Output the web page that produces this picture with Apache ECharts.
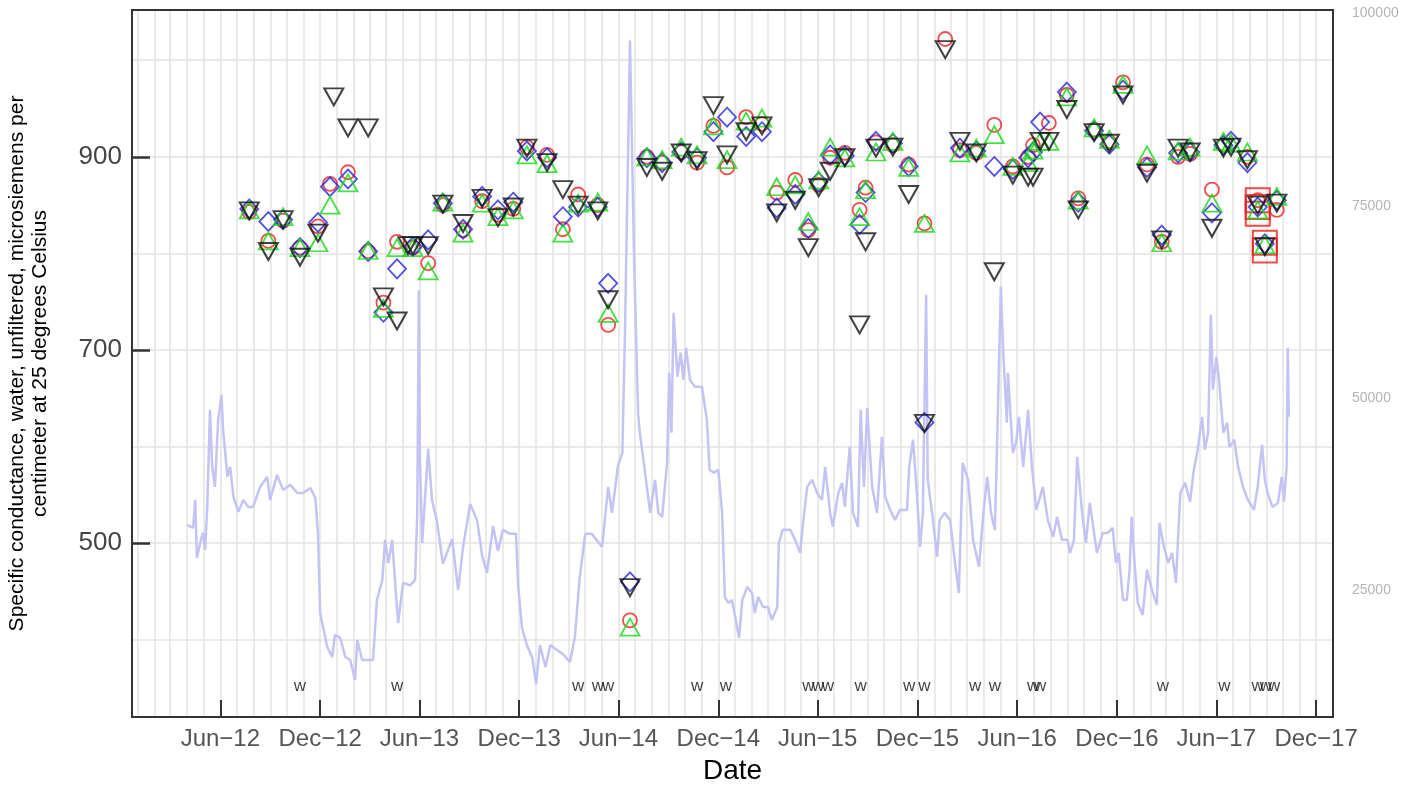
<!DOCTYPE html>
<html>
<head>
<meta charset="utf-8">
<script src="https://cdn.jsdelivr.net/npm/echarts@6/dist/echarts.min.js"></script>
<style>
  html, body { margin: 0; padding: 0; background: #fff; }
  #chart { width: 1417px; height: 789px; }
</style>
</head>
<body>
<div id="chart"></div>
<script>
// daily streamflow (right axis)
const flowDates = [
  '2012-04-01','2012-04-12','2012-04-16','2012-04-19','2012-04-25','2012-04-30','2012-05-04','2012-05-08','2012-05-13','2012-05-17',
  '2012-05-22','2012-05-28','2012-06-03','2012-06-06','2012-06-14','2012-06-19','2012-06-25','2012-07-04','2012-07-13','2012-07-22',
  '2012-07-31','2012-08-13','2012-08-26','2012-08-31','2012-09-13','2012-09-24','2012-10-07','2012-10-20','2012-10-31','2012-11-13',
  '2012-11-22','2012-11-27','2012-12-01','2012-12-14','2012-12-23','2012-12-28','2013-01-07','2013-01-16','2013-01-25','2013-02-03',
  '2013-02-07','2013-02-16','2013-02-27','2013-03-08','2013-03-15','2013-03-25','2013-03-30','2013-04-05','2013-04-12','2013-04-18',
  '2013-04-23','2013-05-02','2013-05-15','2013-05-24','2013-05-28','2013-05-31','2013-06-02','2013-06-06','2013-06-17','2013-06-24',
  '2013-07-03','2013-07-14','2013-07-31','2013-08-11','2013-08-20','2013-09-02','2013-09-15','2013-09-24','2013-10-03','2013-10-14',
  '2013-10-23','2013-11-01','2013-11-14','2013-11-25','2013-11-29','2013-12-06','2013-12-15','2013-12-25','2014-01-01','2014-01-08',
  '2014-01-18','2014-01-27','2014-02-08','2014-02-19','2014-03-04','2014-03-13','2014-03-22','2014-04-01','2014-04-13','2014-05-02',
  '2014-05-13','2014-05-20','2014-05-31','2014-06-08','2014-06-13','2014-06-22','2014-06-30','2014-07-07','2014-07-10','2014-07-16',
  '2014-07-29','2014-08-07','2014-08-13','2014-08-20','2014-08-29','2014-09-02','2014-09-06','2014-09-10','2014-09-17','2014-09-23',
  '2014-09-28','2014-10-03','2014-10-10','2014-10-19','2014-11-01','2014-11-10','2014-11-15','2014-11-23','2014-12-01','2014-12-08',
  '2014-12-13','2014-12-19','2014-12-26','2015-01-01','2015-01-08','2015-01-14','2015-01-23','2015-02-01','2015-02-06','2015-02-12',
  '2015-02-21','2015-03-02','2015-03-09','2015-03-19','2015-03-22','2015-03-29','2015-04-12','2015-04-21','2015-04-30','2015-05-06',
  '2015-05-13','2015-05-22','2015-05-31','2015-06-09','2015-06-15','2015-06-24','2015-06-29','2015-07-09','2015-07-16','2015-07-21',
  '2015-07-30','2015-08-05','2015-08-14','2015-08-19','2015-08-25','2015-08-31','2015-09-09','2015-09-18','2015-09-27','2015-10-03',
  '2015-10-12','2015-10-21','2015-10-30','2015-11-12','2015-11-16','2015-11-23','2015-11-30','2015-12-06','2015-12-11','2015-12-17',
  '2015-12-20','2015-12-28','2016-01-06','2016-01-11','2016-01-20','2016-01-30','2016-02-08','2016-02-15','2016-02-22','2016-03-03',
  '2016-03-12','2016-03-23','2016-03-31','2016-04-07','2016-04-14','2016-04-21','2016-04-25','2016-05-02','2016-05-06','2016-05-13',
  '2016-05-15','2016-05-24','2016-05-30','2016-06-04','2016-06-12','2016-06-21','2016-06-28','2016-07-06','2016-07-13','2016-07-18',
  '2016-07-27','2016-08-06','2016-08-13','2016-08-22','2016-09-01','2016-09-06','2016-09-13','2016-09-19','2016-09-28','2016-10-05',
  '2016-10-12','2016-10-20','2016-10-25','2016-11-05','2016-11-14','2016-11-23','2016-11-29','2016-12-04','2016-12-12','2016-12-19',
  '2016-12-24','2016-12-28','2017-01-03','2017-01-08','2017-01-17','2017-01-25','2017-02-03','2017-02-12','2017-02-17','2017-02-25',
  '2017-03-05','2017-03-12','2017-03-19','2017-03-27','2017-04-05','2017-04-14','2017-04-20','2017-04-27','2017-05-06','2017-05-11',
  '2017-05-17','2017-05-22','2017-05-26','2017-06-01','2017-06-06','2017-06-14','2017-06-21','2017-06-25','2017-07-04','2017-07-11',
  '2017-07-20','2017-07-29','2017-08-09','2017-08-16','2017-08-24','2017-08-29','2017-09-03','2017-09-12','2017-09-22','2017-09-29',
  '2017-10-03','2017-10-08','2017-10-10','2017-10-12'
];
const flowValues = [
  33470,33080,36720,29170,31120,32420,30210,35810,48440,41020,
  38420,47140,50390,45840,39720,41020,37110,35160,36720,35810,
  35810,38420,39720,36720,39980,38020,38680,37630,37630,38280,
  36980,32420,22010,17580,16280,19150,18760,16280,15890,13290,
  18500,15890,15890,15890,23700,26310,31520,28520,31520,25400,
  20710,25920,25600,26310,35030,64000,42000,31120,43360,36720,
  33990,28390,31640,25000,30600,36200,33990,29430,27220,33340,
  30080,32820,32300,32300,25530,20060,17840,16150,12770,17840,
  14980,17840,17190,16670,15630,18890,26700,32300,32300,30600,
  38420,35030,41150,42840,58990,96480,66800,47790,45450,42320,
  35030,39330,35030,34510,41540,53260,45450,61070,52740,55880,
  52350,56510,52350,51440,51440,47140,40630,40240,40630,35030,
  24100,23310,23700,21490,18760,23700,25400,24610,22010,24100,
  22790,22790,21100,22790,31120,32820,32820,31520,29820,34120,
  38420,39330,37630,36720,41020,35030,33210,37630,38940,35810,
  43620,35030,33210,48440,38420,48700,38420,35030,44930,37110,
  35420,34120,35420,35420,41020,44540,37630,30600,35030,63410,
  39330,35030,29300,34120,35030,34120,28520,24610,41540,39330,
  31520,28000,35030,39720,35030,32820,43620,64450,56640,46750,
  53260,42840,44140,47530,41020,48440,41020,35420,37110,38420,
  34120,31910,34510,31520,31520,29820,31520,42320,35030,31120,
  36330,32420,29820,32420,32420,33080,28520,29820,23700,23700,
  27610,34510,27610,23310,21750,27610,25000,23050,33730,30600,
  28520,29820,25920,37630,38940,36460,40240,42840,47530,43230,
  45450,60810,51050,55340,52350,45450,46750,43620,44540,41020,
  38420,36720,35420,38420,43880,39330,37630,35810,36330,39720,
  36460,41020,56510,47530
];

// sample dates and specific conductance by method (left axis)
const sampleDates = [
  '2012-07-24','2012-08-28','2012-09-24','2012-10-25','2012-11-27','2012-12-19','2012-12-26','2013-01-21','2013-02-27','2013-03-27',
  '2013-04-21','2013-05-11','2013-05-20','2013-06-17','2013-07-14','2013-08-20','2013-09-24','2013-10-23','2013-11-20','2013-12-15',
  '2014-01-21','2014-02-19','2014-03-19','2014-04-24','2014-05-13','2014-06-22','2014-07-23','2014-08-20','2014-09-24','2014-10-23',
  '2014-11-22','2014-12-17','2015-01-21','2015-02-19','2015-03-18','2015-04-21','2015-05-15','2015-06-03','2015-06-24','2015-07-21',
  '2015-08-17','2015-08-28','2015-09-16','2015-10-17','2015-11-15','2015-12-14','2016-01-21','2016-02-17','2016-03-18','2016-04-20',
  '2016-05-24','2016-06-21','2016-06-30','2016-07-13','2016-07-29','2016-08-31','2016-09-21','2016-10-20','2016-11-17','2016-12-12',
  '2017-01-25','2017-02-21','2017-03-23','2017-04-14','2017-05-24','2017-06-14','2017-06-28','2017-07-28','2017-08-16','2017-08-29',
  '2017-09-20'
];
const circleValues = [
  843,813,834,806,828,872,null,884,802,749,
  812,null,806,790,850,824,854,840,846,910,
  902,825,861,850,726,420,900,894,905,894,
  932,889,941,934,863,876,824,871,899,904,
  845,868,915,912,892,831,1022,907,904,933,
  890,900,912,null,935,964,857,928,915,977,
  892,812,900,903,866,912,null,900,855,null,
  845
];
const diamondValues = [
  846,833,835,806,832,869,null,877,802,739,
  784,null,807,814,852,825,859,845,853,906,
  899,838,848,848,769,460,899,894,905,899,
  926,941,921,926,847,861,826,874,902,901,
  830,863,916,914,890,625,null,909,906,890,
  887,899,905,936,null,967,853,927,913,969,
  889,819,904,905,842,912,916,894,848,810,
  855
];
const triangleValues = [
  845,813,838,806,811,850,null,873,803,743,
  806,null,806,782,853,821,852,838,845,902,
  893,821,852,853,738,413,900,897,910,902,
  932,897,937,940,869,871,833,876,910,899,
  838,866,905,916,889,831,null,904,909,923,
  890,894,907,916,916,962,855,930,918,975,
  902,811,906,910,852,916,914,905,845,809,
  859
];
const invTriValues = [
  844,802,835,796,821,null,962,930,930,755,
  730,808,808,808,851,831,857,837,848,909,
  894,866,850,844,752,454,889,885,904,896,
  953,902,926,932,842,855,806,868,885,899,
  726,812,909,910,861,624,1011,916,904,781,
  881,879,879,916,916,949,845,925,914,964,
  883,814,909,905,826,909,910,897,850,807,
  852
];
const squareDates = ['2017-08-16','2017-08-16','2017-08-16','2017-08-29','2017-08-29'];
const squareValues = [855, 848, 841, 811, 803];

// "w" remark markers along the bottom
const wDates = [
  '2012-10-25','2013-04-21','2014-03-19','2014-04-24','2014-05-13','2014-10-23','2014-12-15','2015-05-15',
  '2015-06-02','2015-06-20','2015-08-19','2015-11-16','2015-12-14','2016-03-16','2016-04-21','2016-06-30',
  '2016-07-13','2017-02-23','2017-06-16','2017-08-16','2017-08-31','2017-09-15'
];
const wLevel = 352;

const tickDates = ['2012-06-01','2012-12-01','2013-06-01','2013-12-01','2014-06-01','2014-12-01',
  '2015-06-01','2015-12-01','2016-06-01','2016-12-01','2017-06-01','2017-12-01'];
const leftTicks = [500, 700, 900];
const leftGrid = [400, 500, 600, 700, 800, 900, 1000];
const rightTicks = [25000, 50000, 75000, 100000];

const MONTHS = ['Jan','Feb','Mar','Apr','May','Jun','Jul','Aug','Sep','Oct','Nov','Dec'];

// dates -> UTC milliseconds, the x axis is a plain value axis
const ts = s => { const p = s.split('-').map(Number); return Date.UTC(p[0], p[1] - 1, p[2]); };

const monthTicks = [];
for (let y = 2012; y <= 2018; y++) {
  for (let m = 0; m < 12; m++) {
    if (y === 2018 && m > 0) break;
    monthTicks.push(Date.UTC(y, m, 1));
  }
}

const FONT = 'Liberation Sans, Arial, sans-serif';
const X_MIN = ts('2011-12-22');
const X_MAX = ts('2018-01-01');

const pairs = (dates, vals) => dates.map((d, i) => [ts(d), vals[i]]).filter(p => p[1] != null);

const chart = echarts.init(document.getElementById('chart'), null, { renderer: 'canvas' });

const markerSeries = (name, vals, symbol, size, color, width, extra) => Object.assign({
  name: name,
  type: 'scatter',
  xAxisIndex: 0,
  yAxisIndex: 0,
  data: pairs(sampleDates, vals),
  symbol: symbol,
  symbolSize: size,
  itemStyle: { color: 'rgba(0,0,0,0)', borderColor: color, borderWidth: width },
  z: 4
}, extra || {});

const option = {
  animation: false,
  backgroundColor: '#fff',
  textStyle: { fontFamily: FONT },
  grid: {
    left: 132, right: 84, top: 10, bottom: 72,
    outerBoundsMode: 'none',
    containLabel: false,
    show: true, borderColor: '#333', borderWidth: 2, backgroundColor: 'transparent',
    z: 8
  },
  xAxis: [
    {
      type: 'value',
      min: X_MIN, max: X_MAX,
      position: 'bottom',
      z: 6,
      name: 'Date',
      nameLocation: 'middle',
      nameGap: 40,
      nameTextStyle: { fontSize: 28, color: '#000', fontFamily: FONT },
      axisLine: { show: true, onZero: false, lineStyle: { color: '#333', width: 2 } },
      axisTick: { show: true, inside: true, length: 17, customValues: tickDates.map(ts), lineStyle: { color: '#333', width: 2 } },
      axisLabel: {
        customValues: tickDates.map(ts),
        margin: 10,
        fontSize: 24,
        color: '#555',
        fontFamily: FONT,
        formatter: function (v) {
          const d = new Date(v);
          return MONTHS[d.getUTCMonth()] + '\u2212' + String(d.getUTCFullYear()).slice(2);
        }
      },
      splitLine: { show: false }
    },
    {
      // monthly vertical grid
      type: 'value',
      min: X_MIN, max: X_MAX,
      position: 'top',
      z: 0,
      axisLine: { show: false },
      axisTick: { show: false, customValues: monthTicks },
      axisLabel: { show: false },
      splitLine: { show: true, lineStyle: { color: '#e3e3e3', width: 1.5 } }
    }
  ],
  yAxis: [
    {
      type: 'value',
      min: 320, max: 1052,
      position: 'left',
      z: 6,
      name: 'Specific conductance, water, unfiltered, microsiemens per\ncentimeter at 25 degrees Celsius',
      nameLocation: 'middle',
      nameGap: 80,
      nameTextStyle: { fontSize: 21, color: '#000', lineHeight: 23, fontFamily: FONT },
      axisLine: { show: true, onZero: false, lineStyle: { color: '#333', width: 2 } },
      axisTick: { show: true, inside: true, length: 18, customValues: leftTicks, lineStyle: { color: '#333', width: 2.5 } },
      axisLabel: { customValues: leftTicks, margin: 10, fontSize: 26, color: '#444', fontFamily: FONT },
      splitLine: { show: false }
    },
    {
      type: 'value',
      min: 8475, max: 100455,
      position: 'right',
      z: 6,
      axisLine: { show: true, onZero: false, lineStyle: { color: '#333', width: 2 } },
      axisTick: { show: false, customValues: rightTicks },
      axisLabel: {
        customValues: rightTicks, margin: 19, fontSize: 14, color: '#b4b4b4', fontFamily: FONT,
        formatter: v => String(v)
      },
      splitLine: { show: false }
    },
    {
      // horizontal grid every 100
      type: 'value',
      min: 320, max: 1052,
      position: 'left',
      z: 0,
      axisLine: { show: false },
      axisTick: { show: false, customValues: leftGrid },
      axisLabel: { show: false },
      splitLine: { show: true, lineStyle: { color: '#e3e3e3', width: 1.5 } }
    }
  ],
  series: [
    {
      name: 'Streamflow',
      type: 'line',
      xAxisIndex: 0,
      yAxisIndex: 1,
      data: pairs(flowDates, flowValues),
      showSymbol: false,
      symbol: 'none',
      lineStyle: { color: '#c4c4f4', width: 2.5 },
      z: 2
    },
    {
      name: 'Squares',
      type: 'scatter',
      xAxisIndex: 0,
      yAxisIndex: 0,
      data: pairs(squareDates, squareValues),
      symbol: 'rect',
      symbolSize: 24,
      itemStyle: { color: 'rgba(0,0,0,0)', borderColor: '#ee1c1c', borderWidth: 2 },
      z: 3
    },
    markerSeries('Circle', circleValues, 'circle', 14, '#ee2020', 1.8),
    markerSeries('Diamond', diamondValues, 'diamond', [18, 19], '#2626d8', 1.8),
    markerSeries('Triangle', triangleValues, 'triangle', [19, 17], '#18d818', 1.8),
    markerSeries('InvTriangle', invTriValues, 'triangle', [19, 17], '#111111', 2, { symbolRotate: 180 }),
    {
      name: 'w',
      type: 'scatter',
      xAxisIndex: 0,
      yAxisIndex: 0,
      data: wDates.map(d => [ts(d), wLevel]),
      symbol: 'circle',
      symbolSize: 1,
      itemStyle: { color: 'rgba(0,0,0,0)' },
      label: { show: true, position: 'inside', formatter: 'w', fontSize: 17, color: '#111', fontFamily: FONT },
      z: 5
    }
  ]
};

chart.setOption(option);
</script>
</body>
</html>
